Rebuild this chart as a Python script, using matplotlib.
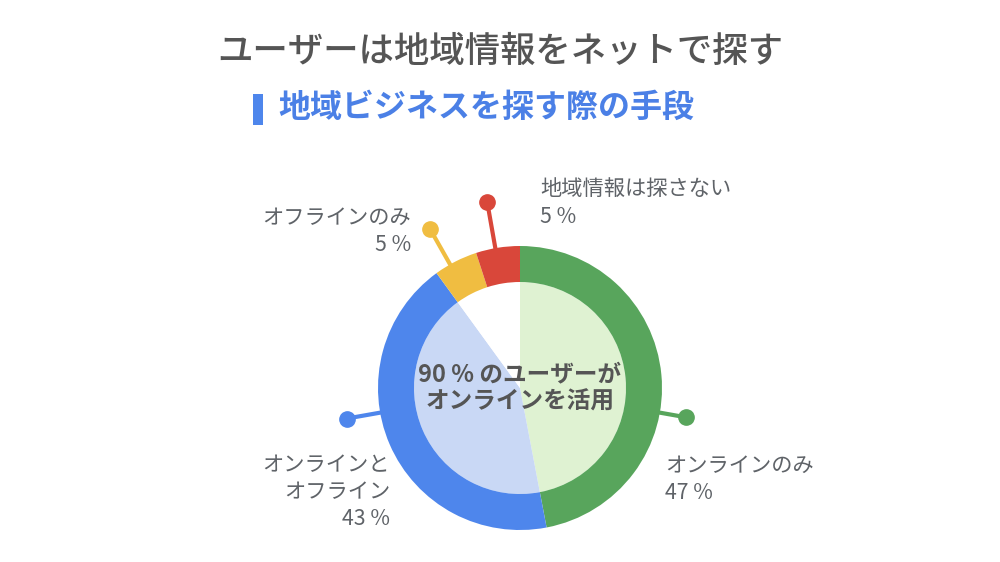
import numpy as np
import matplotlib.pyplot as plt

plt.rcParams['font.family'] = ['Noto Sans CJK JP', 'DejaVu Sans']

# 外側リング
labels = ['オンラインのみ', 'オンラインと\nオフライン', 'オフラインのみ', '地域情報は探さない']
values = [47, 43, 5, 5]
colors = ['#58a55c', '#4e86ec', '#f0bd41', '#d9473a']

# 内側の円
inner_values = [47, 43, 10]
inner_colors = ['#dff2d2', '#c9d8f5', '#ffffff']

title = 'ユーザーは地域情報をネットで探す'
subtitle = '地域ビジネスを探す際の手段'
center_text = '90 % のユーザーが\nオンラインを活用'

W, H = 1000, 562
fig = plt.figure(figsize=(10, 5.62), dpi=100)
ax = fig.add_axes([0, 0, 1, 1])

cx, cy = 520, H - 388
R, ring = 142, 36

ax.pie(inner_values, colors=inner_colors, radius=R - ring, center=(cx, cy),
       startangle=90, counterclock=False, wedgeprops=dict(linewidth=0))
ax.pie(values, colors=colors, radius=R, center=(cx, cy),
       startangle=90, counterclock=False, wedgeprops=dict(width=ring, linewidth=0))

# 引き出し線 (角度, 長さ)
callouts = [(-10, 169), (190, 176), (119.5, 183), (100, 189)]
for (ang, r), c in zip(callouts, colors):
    a = np.deg2rad(ang)
    x0, y0 = cx + (R - 4) * np.cos(a), cy + (R - 4) * np.sin(a)
    x1, y1 = cx + r * np.cos(a), cy + r * np.sin(a)
    ax.plot([x0, x1], [y0, y1], color=c, lw=3, solid_capstyle='butt', zorder=3)
    ax.plot(x1, y1, 'o', color=c, ms=11, zorder=4)

lab_col = '#5f6368'
fs = 15.3
pos = [(665, H - 479, 'left'), (390, H - 492, 'right'), (411, H - 231, 'right'), (540, H - 203, 'left')]
for (x, y, ha), lab, v in zip(pos, labels, values):
    ax.text(x, y, f'{lab}\n{v} %', ha=ha, va='center', fontsize=fs,
            color=lab_col, linespacing=1.3)

ax.text(cx, cy, center_text, ha='center', va='center', fontsize=17,
        fontweight='bold', color='#555555', linespacing=1.2)

fig.text(0.5, 1 - 52 / H, title, ha='center', va='center', fontsize=25.5,
         color='#555555', fontweight='medium')
ax.add_patch(plt.Rectangle((253, H - 125), 10, 31, color='#4e86ec', lw=0))
ax.text(278, H - 108, subtitle, ha='left', va='center', fontsize=23,
        fontweight='bold', color='#4b80e6')

ax.set_xlim(0, W)
ax.set_ylim(0, H)
ax.set_aspect('equal')
ax.axis('off')

fig.savefig('out.png', dpi=100)
